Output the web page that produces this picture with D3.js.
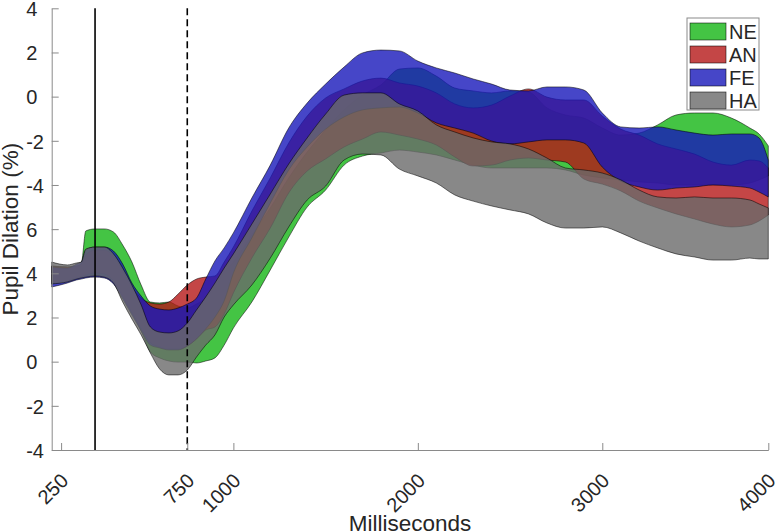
<!DOCTYPE html>
<html><head><meta charset="utf-8">
<script src="https://cdn.jsdelivr.net/npm/d3@7"></script>
<style>
body{margin:0;background:#fff}
svg{display:block}
text{font-family:"Liberation Sans",Arial,Helvetica,sans-serif;fill:#262626}
</style>
</head><body>
<svg id="chart" width="780" height="532"></svg>
<script>
// ---- data ----
const timeMs = [15,100,150,175,200,250,300,350,400,450,500,550,600,650,700,750,800,850,900,950,1000,1100,1200,1300,1400,1500,1600,1700,1800,1900,2000,2100,2200,2300,2400,2500,2600,2700,2800,2900,3000,3100,3200,3300,3400,3500,3600,3700,3800,3850,3900];

const neUpper = [4.33,4.29,4.33,4.42,5.92,6.01,6.01,5.87,5.28,4.51,3.47,2.70,2.66,2.70,2.52,2.43,2.61,2.88,3.43,4.06,4.51,5.74,6.96,8.32,9.49,10.49,11.40,12.07,12.53,13.25,13.30,12.93,12.39,12.26,12.17,12.26,12.21,11.49,11.17,11.03,10.58,10.26,10.35,10.72,11.17,11.26,11.26,11.03,10.58,10.31,9.77];
const neLower = [3.52,3.65,3.79,3.83,3.88,3.92,3.88,3.65,2.97,2.20,1.39,0.44,0.17,0.03,-0.02,-0.02,-0.06,0.03,0.17,0.75,1.52,2.70,4.15,5.64,7.00,7.77,8.90,9.31,9.45,9.58,9.49,9.36,9.13,8.90,8.77,8.77,8.77,8.77,8.68,8.45,8.32,8.23,8.14,8.09,8.00,8.00,8.00,8.00,8.09,8.23,8.41];

const anUpper = [4.33,4.29,4.33,4.42,4.83,5.06,5.06,4.78,4.15,3.38,2.88,2.66,2.61,2.70,3.06,3.47,3.74,3.83,3.88,4.51,5.19,6.82,8.32,9.90,11.12,11.94,12.35,12.71,12.84,12.62,12.48,12.17,11.67,11.49,11.62,12.03,12.35,11.98,11.85,11.85,11.12,10.53,10.26,9.86,9.63,9.40,9.04,8.90,9.13,9.09,8.77];
const anLower = [3.56,3.65,3.79,3.83,3.92,4.01,3.97,3.65,2.93,2.20,1.48,0.85,0.66,0.57,0.57,0.71,1.03,1.43,1.57,2.16,3.11,4.69,6.05,7.64,8.63,9.18,9.72,10.08,10.40,10.26,10.08,9.81,9.27,8.86,8.90,9.13,9.22,9.13,9.04,8.27,8.04,7.73,7.27,6.96,6.69,6.46,6.23,6.10,6.19,6.37,6.64];

const feUpper = [4.29,4.24,4.42,4.51,5.06,5.19,5.19,5.01,4.42,3.56,2.97,2.52,2.38,2.34,2.43,2.61,2.88,3.74,4.56,5.15,5.83,7.41,8.90,10.58,11.71,12.57,13.34,13.98,14.11,14.07,13.61,13.30,13.07,12.80,12.57,12.30,12.26,12.44,12.44,12.30,11.26,10.63,10.58,10.63,10.49,10.35,10.26,10.31,10.31,10.13,9.13];
const feLower = [3.38,3.56,3.70,3.74,3.79,3.83,3.79,3.52,2.84,2.11,1.39,0.75,0.62,0.53,0.53,0.71,1.03,1.48,2.02,2.75,4.01,5.60,7.18,8.68,9.72,10.53,11.08,11.40,11.49,11.53,11.26,10.81,10.58,10.35,9.99,9.86,9.95,10.04,10.04,9.90,8.81,8.18,7.91,7.77,7.86,7.91,8.00,7.95,7.86,7.68,7.46];

const haUpper = [4.51,4.38,4.47,4.51,5.10,5.19,5.19,4.88,4.24,3.47,2.57,1.57,1.34,1.30,1.39,1.75,2.34,2.93,3.56,4.24,4.88,6.23,7.59,8.95,10.13,11.21,12.07,12.17,12.17,11.67,11.35,10.72,10.40,10.13,9.95,9.86,9.63,9.22,8.77,8.68,8.54,8.23,7.77,7.46,7.41,7.46,7.41,7.41,7.32,7.14,6.96];
const haLower = [3.52,3.61,3.74,3.79,3.83,3.88,3.83,3.56,2.70,1.93,1.21,0.39,-0.33,-0.60,-0.60,-0.38,0.21,0.75,1.21,2.02,2.57,3.47,4.69,6.10,7.32,7.95,9.13,9.40,9.36,8.72,8.41,8.09,7.55,7.27,7.05,6.87,6.69,6.28,6.05,6.05,6.10,5.83,5.46,5.15,4.88,4.74,4.60,4.60,4.69,4.65,4.65];

const seriesNames = ["NE","AN","FE","HA"];
const seriesColors = ["#15b515","#b51818","#1818ba","#6a6a6a"];

const xTickValues = [66,750,1000,2000,3000,3900];
const xTickLabels = ["250","750","1000","2000","3000","4000"];
const yTickValues = [-4,-2,0,2,4,6,8,10,12,14,16];
const yTickLabels = ["-4","-2","0","2","4","6","-4","-2","0","2","4"];
const eventTimes = [250,750];
const eventDash = [null,"7,4"];

// ---- chart ----
const svg = d3.select("#chart");
const x = d3.scaleLinear().domain([15,3900]).range([51.7,768.3]);
const y = d3.scaleLinear().domain([-4,16]).range([450,8.3]);

const series = [
  {name:seriesNames[0], color:seriesColors[0], up:neUpper, lo:neLower},
  {name:seriesNames[1], color:seriesColors[1], up:anUpper, lo:anLower},
  {name:seriesNames[2], color:seriesColors[2], up:feUpper, lo:feLower},
  {name:seriesNames[3], color:seriesColors[3], up:haUpper, lo:haLower}
];

const area = d3.area()
  .x(d => x(d.t))
  .y0(d => y(d.lo))
  .y1(d => y(d.hi))
  .curve(d3.curveMonotoneX);

svg.append("g").selectAll("path")
  .data(series)
  .join("path")
  .attr("d", s => area(timeMs.map((t,i) => ({t, lo:s.lo[i], hi:s.up[i]}))))
  .attr("fill", s => s.color)
  .attr("fill-opacity", 0.8)
  .attr("stroke", "#000")
  .attr("stroke-opacity", 0.75)
  .attr("stroke-width", 0.7);

// event lines
svg.append("g").selectAll("line")
  .data(eventTimes)
  .join("line")
  .attr("x1", d => x(d)).attr("x2", d => x(d))
  .attr("y1", y(16)).attr("y2", y(-4))
  .attr("stroke", "#000")
  .attr("stroke-width", 1.6)
  .attr("stroke-dasharray", (d,i) => eventDash[i]);

// x axis
const xAxis = svg.append("g")
  .attr("transform", `translate(0,${y(-4)})`)
  .call(d3.axisBottom(x).tickValues(xTickValues).tickFormat((d,i) => xTickLabels[i]).tickSizeInner(-7).tickSizeOuter(0));
xAxis.select(".domain").attr("stroke", "#8a8a8a").attr("stroke-width", 1);
xAxis.selectAll(".tick line").attr("stroke", "#8a8a8a");
xAxis.selectAll(".tick text")
  .attr("y", 0).attr("dy", null)
  .attr("transform", "translate(3,27) rotate(-45)")
  .attr("text-anchor", "end")
  .attr("dominant-baseline", "central")
  .style("font-size", "20px")
  .style("font-family", '"Liberation Sans",Arial,sans-serif')
  .attr("fill", "#262626");

// y axis
const yAxis = svg.append("g")
  .attr("transform", `translate(${x(15)},0)`)
  .call(d3.axisLeft(y).tickValues(yTickValues).tickFormat((d,i) => yTickLabels[i]).tickSizeInner(-7).tickSizeOuter(0));
yAxis.select(".domain").attr("stroke", "#8a8a8a").attr("stroke-width", 1);
yAxis.selectAll(".tick line").attr("stroke", "#8a8a8a");
yAxis.selectAll(".tick text")
  .attr("x", -25.5).attr("dy", "0.36em")
  .attr("text-anchor", "start")
  .style("font-size", "20px")
  .style("font-family", '"Liberation Sans",Arial,sans-serif')
  .attr("fill", "#262626");

// axis titles
svg.append("text")
  .attr("x", (x.range()[0] + x.range()[1]) / 2)
  .attr("y", 531)
  .attr("text-anchor", "middle")
  .style("font-size", "22.5px")
  .text("Milliseconds");

svg.append("text")
  .attr("transform", `translate(18,${(y(-4)+y(16))/2}) rotate(-90)`)
  .attr("text-anchor", "middle")
  .style("font-size", "22.5px")
  .text("Pupil Dilation (%)");

// legend
const lg = svg.append("g").attr("transform", "translate(687,18)");
lg.append("rect").attr("x",0).attr("y",0).attr("width",72).attr("height",92)
  .attr("fill","#fff").attr("stroke","#8a8a8a").attr("stroke-width",1);
const items = lg.selectAll("g.item").data(series).join("g")
  .attr("class","item")
  .attr("transform", (d,i) => `translate(3,${5 + i*23})`);
items.append("rect").attr("width",36).attr("height",17)
  .attr("fill", d => d.color).attr("fill-opacity",0.8)
  .attr("stroke","#000").attr("stroke-opacity",0.75).attr("stroke-width",0.7);
items.append("text").attr("x",39).attr("y",8.5).attr("dy","0.36em")
  .style("font-size","20px").text(d => d.name);
</script>
</body></html>
